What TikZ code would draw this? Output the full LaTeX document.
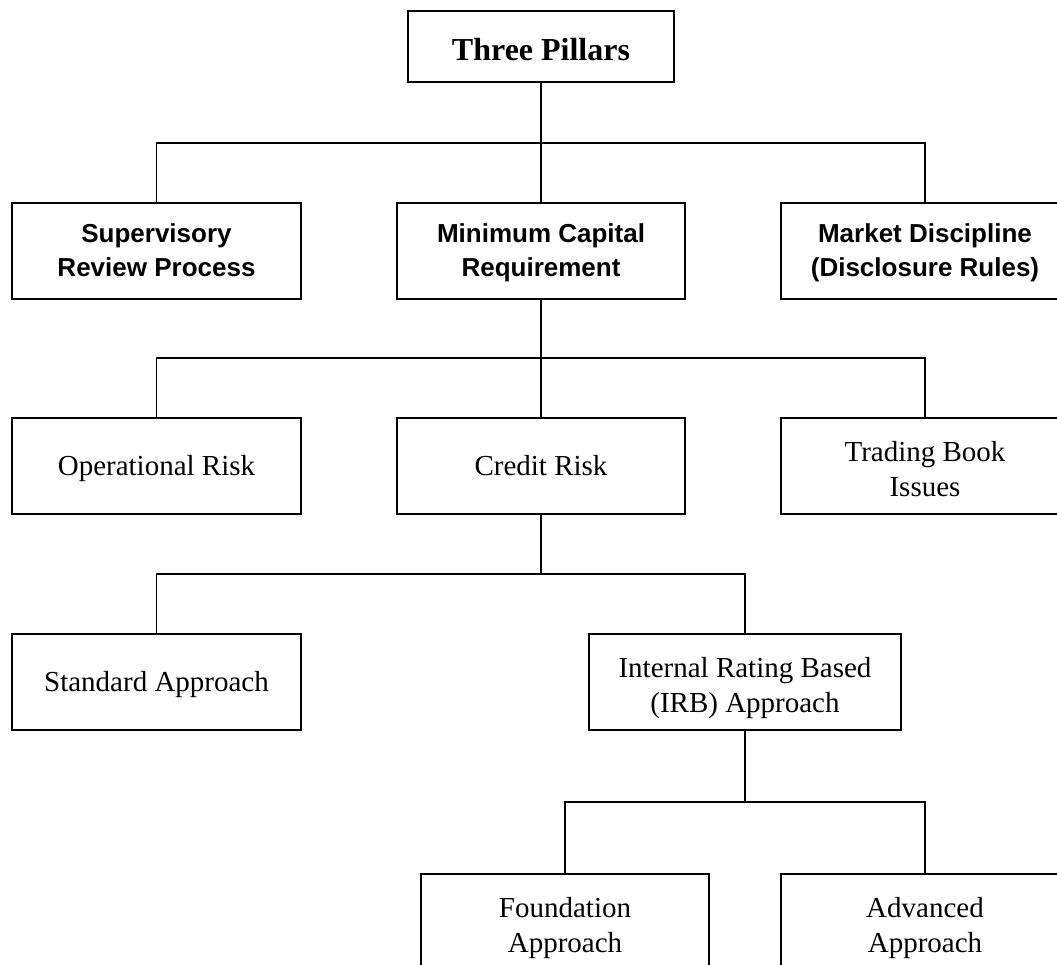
\documentclass[tikz,border=0pt]{standalone}
\usepackage{fontspec}
\setmainfont{Liberation Serif}
\setsansfont{Liberation Sans}
\begin{document}
\begin{tikzpicture}[x=1pt,y=-1pt,
  box/.style={draw, line width=1.6pt, rectangle, inner sep=0pt, align=center,
    minimum width=288pt, minimum height=96pt},
  serifbox/.style={box, font=\fontsize{29}{35}\selectfont, text height=19pt, text depth=0pt},
  seriftwo/.style={box, font=\fontsize{29}{34.5}\selectfont, text height=60pt, text depth=0pt},
  sansbox/.style={box, font=\fontsize{26}{34}\selectfont\sffamily\bfseries, text height=52pt, text depth=0pt},
  conn/.style={line width=1.6pt}]
\useasboundingbox (0,0) rectangle (1057,965);
\clip (0,0) rectangle (1057,965);
% level 1
\node[box, minimum width=266pt, minimum height=71pt, text height=29pt, text depth=0pt,
  font=\fontsize{32}{38}\selectfont\bfseries] (tp) at (541,46.5) {Three Pillars};
% level 2
\node[sansbox, minimum width=289pt] (srp) at (156.5,251) {Supervisory\\Review Process};
\node[sansbox] (mcr) at (541,251) {Minimum Capital\\Requirement};
\node[sansbox] (md) at (925,251) {Market Discipline\\(Disclosure Rules)};
% level 3
\node[serifbox, minimum width=289pt] (or) at (156.5,466) {Operational Risk};
\node[serifbox] (cr) at (541,466) {Credit Risk};
\node[seriftwo] (tb) at (925,466) {Trading Book\\Issues};
% level 4
\node[serifbox, minimum width=289pt] (sa) at (156.5,682) {Standard Approach};
\node[seriftwo, minimum width=312pt] (irb) at (745,682) {Internal Rating Based\\(IRB) Approach};
% level 5
\node[seriftwo] (fa) at (565,922) {Foundation\\Approach};
\node[seriftwo] (aa) at (925,922) {Advanced\\Approach};
% buses
\coordinate (b1) at (541,143);
\coordinate (b2) at (541,358);
\coordinate (b3) at (541,574);
\coordinate (b4) at (745,802);
\draw[conn] (tp.south) -- (mcr.north);
\draw[conn] (srp.north) |- (b1) -| (md.north);
\draw[conn] (mcr.south) -- (cr.north);
\draw[conn] (or.north) |- (b2) -| (tb.north);
\draw[conn] (cr.south) -- (b3);
\draw[conn] (sa.north) |- (b3) -| (irb.north);
\draw[conn] (irb.south) -- (b4);
\draw[conn] (fa.north) |- (b4) -| (aa.north);
\end{tikzpicture}
\end{document}
